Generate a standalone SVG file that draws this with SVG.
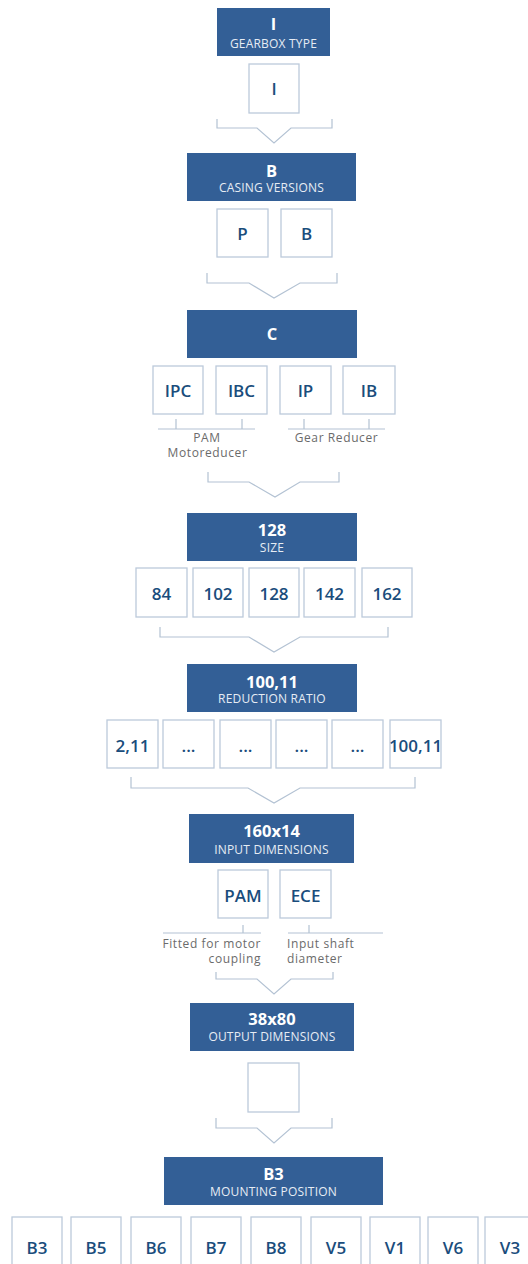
<svg xmlns="http://www.w3.org/2000/svg" width="528" height="1264" viewBox="0 0 528 1264">
<style>
.hdr{fill:#335f96}
.box{fill:#fff;stroke:#bccadb;stroke-width:1.3}
.ht{font-family:"Open Sans","Liberation Sans",sans-serif;font-weight:700;font-size:16.5px;fill:#fff;text-anchor:middle}
.hs{font-family:"Open Sans","Liberation Sans",sans-serif;font-weight:400;font-size:12px;letter-spacing:0.2px;fill:#e6ecf4;text-anchor:middle}
.bt{font-family:"Open Sans","Liberation Sans",sans-serif;font-weight:600;font-size:17px;fill:#1a4d7c;text-anchor:middle}
.lbl{font-family:"Open Sans","Liberation Sans",sans-serif;font-size:12px;letter-spacing:0.6px;fill:#6b6b6b}
.ln{fill:none;stroke:#b3c2d3;stroke-width:1.2}
</style>
<rect width="528" height="1264" fill="#fff"/>
<g id="connectors">
<path class="ln" d="M217 119V128H257L274 143L291 128H332V119"/>
<path class="ln" d="M207 273V283H249L274 298L300 283H337V273"/>
<path class="ln" d="M158 429H255M176 419V429M242 419V429M288 429H385M304 419V429M369 419V429"/>
<path class="ln" d="M208 472V482H249L275 497L300 482H339V472"/>
<path class="ln" d="M160 627V637H249L274 652L300 637H388V627"/>
<path class="ln" d="M131 777V788H248L274 803L300 788H415V777"/>
<path class="ln" d="M163 933H261M243 925V933M288 933H383M309 925V933"/>
<path class="ln" d="M216 972V979H257L274 994L291 979H333V972"/>
<path class="ln" d="M216 1118V1128H257L274 1143L291 1128H332V1118"/>
</g>
<g id="hdr-gearbox"><rect class="hdr" x="217" y="8" width="113" height="48"/><text class="ht" x="273.5" y="30">I</text><text class="hs" x="273.5" y="47.5">GEARBOX TYPE</text></g>
<g id="opt-I"><rect class="box" x="249" y="64" width="50" height="49"/><text class="bt" x="274" y="95">I</text></g>
<g id="hdr-casing"><rect class="hdr" x="187" y="153" width="169" height="48"/><text class="ht" x="271.5" y="176.5">B</text><text class="hs" x="271.5" y="192">CASING VERSIONS</text></g>
<g id="opt-P"><rect class="box" x="217" y="209" width="51" height="48"/><text class="bt" x="242.5" y="240">P</text></g>
<g id="opt-B"><rect class="box" x="281" y="209" width="51" height="48"/><text class="bt" x="306.5" y="240">B</text></g>
<g id="hdr-C"><rect class="hdr" x="187" y="310" width="170" height="48"/><text class="ht" x="272" y="340">C</text></g>
<g id="opt-IPC"><rect class="box" x="153" y="366" width="50" height="48"/><text class="bt" x="178" y="397">IPC</text></g>
<g id="opt-IBC"><rect class="box" x="216" y="366" width="51" height="48"/><text class="bt" x="241.5" y="397">IBC</text></g>
<g id="opt-IP"><rect class="box" x="280" y="366" width="51" height="48"/><text class="bt" x="305.5" y="397">IP</text></g>
<g id="opt-IB"><rect class="box" x="343" y="366" width="52" height="48"/><text class="bt" x="369" y="397">IB</text></g>
<g id="lbl-pam"><text class="lbl" x="207" y="441.5" text-anchor="middle">PAM</text><text class="lbl" x="207.5" y="456.5" text-anchor="middle">Motoreducer</text></g>
<g id="lbl-gear"><text class="lbl" x="336.5" y="441.5" text-anchor="middle">Gear Reducer</text></g>
<g id="hdr-size"><rect class="hdr" x="187" y="513" width="170" height="48"/><text class="ht" x="272" y="536">128</text><text class="hs" x="272" y="552">SIZE</text></g>
<g id="opt-84"><rect class="box" x="136" y="568" width="51" height="49"/><text class="bt" x="161.5" y="600">84</text></g>
<g id="opt-102"><rect class="box" x="193" y="568" width="50" height="49"/><text class="bt" x="218" y="600">102</text></g>
<g id="opt-128"><rect class="box" x="249" y="568" width="50" height="49"/><text class="bt" x="274" y="600">128</text></g>
<g id="opt-142"><rect class="box" x="304" y="568" width="51" height="49"/><text class="bt" x="329.5" y="600">142</text></g>
<g id="opt-162"><rect class="box" x="362" y="568" width="50" height="49"/><text class="bt" x="387" y="600">162</text></g>
<g id="hdr-ratio"><rect class="hdr" x="187" y="664" width="170" height="48"/><text class="ht" x="272" y="687.5">100,11</text><text class="hs" x="272" y="703">REDUCTION RATIO</text></g>
<g id="opt-211"><rect class="box" x="107" y="720" width="51" height="48"/><text class="bt" x="132.5" y="752">2,11</text></g>
<g id="opt-d1"><rect class="box" x="163" y="720" width="51" height="48"/><text class="bt" x="188.5" y="752">...</text></g>
<g id="opt-d2"><rect class="box" x="220" y="720" width="51" height="48"/><text class="bt" x="245.5" y="752">...</text></g>
<g id="opt-d3"><rect class="box" x="276" y="720" width="51" height="48"/><text class="bt" x="301.5" y="752">...</text></g>
<g id="opt-d4"><rect class="box" x="332" y="720" width="51" height="48"/><text class="bt" x="357.5" y="752">...</text></g>
<g id="opt-10011"><rect class="box" x="390" y="720" width="51" height="48"/><text class="bt" x="415.5" y="752">100,11</text></g>
<g id="hdr-input"><rect class="hdr" x="189" y="814" width="165" height="49"/><text class="ht" x="271.5" y="837">160x14</text><text class="hs" x="271.5" y="853.5">INPUT DIMENSIONS</text></g>
<g id="opt-PAM"><rect class="box" x="218" y="870" width="50" height="48"/><text class="bt" x="243" y="902">PAM</text></g>
<g id="opt-ECE"><rect class="box" x="280" y="870" width="51" height="48"/><text class="bt" x="305.5" y="902">ECE</text></g>
<g id="lbl-fitted"><text class="lbl" x="261" y="948" text-anchor="end">Fitted for motor</text><text class="lbl" x="261" y="963" text-anchor="end">coupling</text></g>
<g id="lbl-shaft"><text class="lbl" x="287" y="948">Input shaft</text><text class="lbl" x="287" y="963">diameter</text></g>
<g id="hdr-output"><rect class="hdr" x="190" y="1003" width="164" height="48"/><text class="ht" x="272" y="1025">38x80</text><text class="hs" x="272" y="1041">OUTPUT DIMENSIONS</text></g>
<g id="opt-empty"><rect class="box" x="248" y="1063" width="51" height="49"/></g>
<g id="hdr-mount"><rect class="hdr" x="164" y="1157" width="219" height="48"/><text class="ht" x="273.5" y="1180">B3</text><text class="hs" x="273.5" y="1196">MOUNTING POSITION</text></g>
<g id="opt-B3"><rect class="box" x="12" y="1217" width="50" height="50"/><text class="bt" x="37" y="1254">B3</text></g>
<g id="opt-B5"><rect class="box" x="71" y="1217" width="50" height="50"/><text class="bt" x="96" y="1254">B5</text></g>
<g id="opt-B6"><rect class="box" x="131" y="1217" width="50" height="50"/><text class="bt" x="156" y="1254">B6</text></g>
<g id="opt-B7"><rect class="box" x="191" y="1217" width="50" height="50"/><text class="bt" x="216" y="1254">B7</text></g>
<g id="opt-B8"><rect class="box" x="251" y="1217" width="50" height="50"/><text class="bt" x="276" y="1254">B8</text></g>
<g id="opt-V5"><rect class="box" x="311" y="1217" width="50" height="50"/><text class="bt" x="336" y="1254">V5</text></g>
<g id="opt-V1"><rect class="box" x="370" y="1217" width="50" height="50"/><text class="bt" x="395" y="1254">V1</text></g>
<g id="opt-V6"><rect class="box" x="428" y="1217" width="50" height="50"/><text class="bt" x="453" y="1254">V6</text></g>
<g id="opt-V3"><rect class="box" x="485" y="1217" width="50" height="50"/><text class="bt" x="510" y="1254">V3</text></g>
</svg>
